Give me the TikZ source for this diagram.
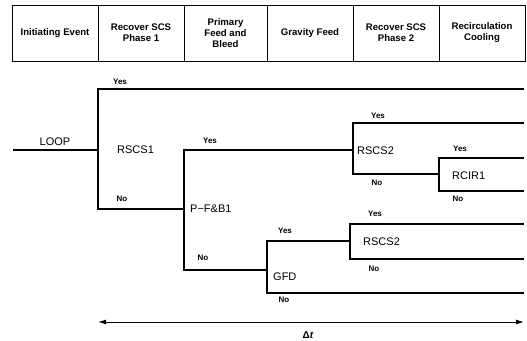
\documentclass[tikz,border=0pt]{standalone}
\usepackage{fontspec}
\setmainfont{Liberation Sans}
\usetikzlibrary{arrows.meta, positioning}

\tikzset{
  hdr/.style={draw, line width=0.9pt, minimum width=86pt, minimum height=56pt, align=center, inner sep=0pt, font=\fontsize{9.6}{11}\selectfont\bfseries},
  branch/.style={line width=1.1pt},
  dec/.style={anchor=west, inner sep=0pt, font=\fontsize{11}{13}\selectfont},
  yn/.style={inner sep=0pt, font=\fontsize{8}{9}\selectfont\bfseries},
  span/.style={line width=1pt, {Latex[length=8pt,width=5pt]}-{Latex[length=8pt,width=5pt]}},
}

\begin{document}
\begin{tikzpicture}[x=1pt, y=-1pt]
    \useasboundingbox (0,0) rectangle (527,340);

    % header row
    \node[hdr] (ie) at (55,33) {Initiating Event};
    \node[hdr] (rscsa) at (141,33) {Recover SCS\\Phase 1};
    \node[hdr, minimum width=83pt] (pfb) at (225.5,33) {Primary\\Feed and\\Bleed};
    \node[hdr] (gf) at (310,33) {Gravity Feed};
    \node[hdr] (rscsb) at (396,33) {Recover SCS\\Phase 2};
    \node[hdr] (rc) at (482,33) {Recirculation\\Cooling};

    % branch points and line ends
    \coordinate (loop0) at (13,150);
    \coordinate (b1) at (98,150);
    \coordinate (b2) at (184,209);
    \coordinate (b3) at (353,150);
    \coordinate (b4) at (439,174);
    \coordinate (b5) at (267,270);
    \coordinate (b6) at (350,241);
    \coordinate (e1) at (524,89);
    \coordinate (e2) at (524,123);
    \coordinate (e3) at (524,158);
    \coordinate (e4) at (524,191);
    \coordinate (e5) at (524,224);
    \coordinate (e6) at (524,259);
    \coordinate (e7) at (524,293);

    % event tree
    \draw[branch] (loop0) -- (b1);
    \draw[branch] (e1) -| (b1) |- (b2);
    \draw[branch] (b3) -| (b2) |- (b5);
    \draw[branch] (e2) -| (b3) |- (b4);
    \draw[branch] (e3) -| (b4) |- (e4);
    \draw[branch] (b6) -| (b5) |- (e7);
    \draw[branch] (e5) -| (b6) |- (e6);

    % top events
    \node[font=\fontsize{11}{13}\selectfont] (loop) at (55,142) {LOOP};
    \node[dec] (rscs1) at (117,150) {RSCS1};
    \node[dec] (pfb1) at (190,209) {P−F\&B1};
    \node[dec] (rscs2a) at (357,151) {RSCS2};
    \node[dec] (rcir1) at (452,176) {RCIR1};
    \node[dec] (gfd) at (273,277) {GFD};
    \node[dec] (rscs2b) at (363,242) {RSCS2};

    % yes / no
    \node[yn] (y1) at (120,82) {Yes};
    \node[yn] (y2) at (210,141) {Yes};
    \node[yn] (y3) at (378,116) {Yes};
    \node[yn] (y4) at (460,149) {Yes};
    \node[yn] (y5) at (285,231) {Yes};
    \node[yn] (y6) at (375,214) {Yes};
    \node[yn] (n1) at (122,199) {No};
    \node[yn] (n2) at (203,258) {No};
    \node[yn] (n3) at (377,183) {No};
    \node[yn] (n4) at (458,199) {No};
    \node[yn] (n5) at (374,269) {No};
    \node[yn] (n6) at (284,300) {No};

    % time span
    \coordinate (dl) at (98,322);
    \coordinate (dr) at (524,322);
    \draw[span] (dl) -- (dr);
    \node[font=\fontsize{10}{12}\selectfont\bfseries] (dt) at (308,335) {Δ\textit{t}};

\end{tikzpicture}
\end{document}
